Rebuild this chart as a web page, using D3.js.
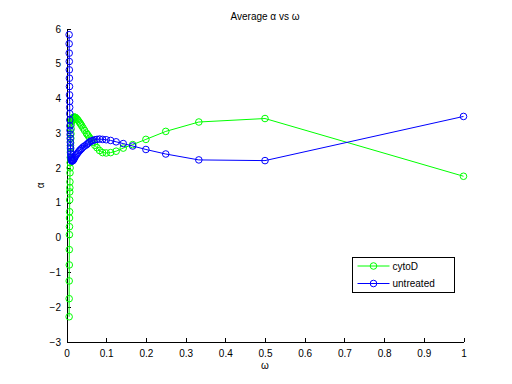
<!DOCTYPE html>
<html>
<head>
<meta charset="utf-8">
<script src="https://cdn.jsdelivr.net/npm/d3@7"></script>
<style>
  body { margin: 0; background: #fff; }
  svg { display: block; font-family: "Liberation Sans", Arial, sans-serif; }
  .axis text { font-size: 10px; fill: #000; }
  .axis path, .axis line { stroke: #000; shape-rendering: crispEdges; }
</style>
</head>
<body>
<div id="chart"></div>
<script>
// omega values (harmonic frequencies), shared by both series
var omega = [1, 0.5, 0.3333, 0.25, 0.2, 0.1667, 0.1429, 0.125, 0.1111, 0.1,
  0.0909, 0.0833, 0.0769, 0.0714, 0.0667, 0.0625, 0.0588, 0.0556, 0.0526, 0.05,
  0.0455, 0.0417, 0.0385, 0.0357, 0.0333, 0.0303, 0.0278, 0.025, 0.0227, 0.0208,
  0.0192, 0.0179, 0.0167, 0.0156, 0.0147, 0.0139, 0.0132,
  0.0125, 0.012, 0.0116, 0.0112, 0.0109, 0.0105, 0.0102, 0.0099, 0.0096, 0.0093,
  0.0091, 0.0088, 0.0086, 0.0084, 0.0082, 0.008, 0.0078, 0.0076, 0.0075, 0.0073,
  0.0071, 0.007, 0.0068, 0.0067, 0.0066];

var cytoD = [1.76, 3.42, 3.32, 3.05, 2.82, 2.67, 2.57, 2.48, 2.44, 2.43,
  2.44, 2.50, 2.58, 2.65, 2.74, 2.80, 2.86, 2.91, 2.96, 3.00,
  3.08, 3.15, 3.21, 3.26, 3.30, 3.35, 3.39, 3.42, 3.45, 3.46,
  3.46, 3.45, 3.44, 3.42, 3.40, 3.38, 3.36,
  3.33, 3.25, 3.12, 2.98, 2.85, 2.72, 2.58, 2.44, 2.30, 2.15,
  2.00, 1.86, 1.60, 1.43, 1.31, 1.08, 0.74, 0.56, 0.31, 0.08,
  -0.35, -0.79, -1.25, -1.76, -2.28];

var untreated = [3.48, 2.21, 2.23, 2.40, 2.53, 2.63, 2.70, 2.75, 2.79, 2.81,
  2.82, 2.83, 2.82, 2.81, 2.79, 2.77, 2.75, 2.72, 2.69, 2.66,
  2.63, 2.60, 2.56, 2.53, 2.50, 2.46, 2.42, 2.38, 2.34, 2.30,
  2.27, 2.24, 2.22, 2.21, 2.20, 2.20, 2.21,
  2.22, 2.25, 2.29, 2.34, 2.40, 2.47, 2.55, 2.64, 2.74, 2.85,
  2.96, 3.08, 3.21, 3.38, 3.56, 3.74, 3.91, 4.10, 4.34, 4.58,
  4.82, 5.06, 5.30, 5.57, 5.83];

var seriesNames = ["cytoD", "untreated"];
var seriesColors = ["#00ff00", "#0000ff"];
var xTicks = [0, 0.1, 0.2, 0.3, 0.4, 0.5, 0.6, 0.7, 0.8, 0.9, 1];
var yTicks = [-3, -2, -1, 0, 1, 2, 3, 4, 5, 6];

var width = 512, height = 384;
var margin = {left: 66.5, right: 48.5, top: 28.8, bottom: 42.2};

var svg = d3.select("#chart").append("svg")
    .attr("width", width)
    .attr("height", height);

var x = d3.scaleLinear().domain([0, 1]).range([margin.left, width - margin.right]);
var y = d3.scaleLinear().domain([-3, 6]).range([height - margin.bottom, margin.top]);

// axes, ticks point inward like MATLAB
svg.append("g")
    .attr("class", "axis")
    .attr("transform", "translate(0," + Math.round(y(-3)) + ")")
    .call(d3.axisBottom(x).tickValues(xTicks).tickSizeInner(-4).tickSizeOuter(0)
        .tickFormat(d3.format("")))
    .call(function(g) { g.selectAll("text").attr("dy", "1.2em"); });

svg.append("g")
    .attr("class", "axis")
    .attr("transform", "translate(" + Math.round(x(0)) + ",0)")
    .call(d3.axisLeft(y).tickValues(yTicks).tickSizeInner(-4).tickSizeOuter(0))
    .call(function(g) { g.selectAll("text").attr("x", -6); });

var data = [cytoD, untreated];
var line = d3.line()
    .x(function(d, i) { return x(omega[i]); })
    .y(function(d) { return y(d); });

data.forEach(function(vals, k) {
    svg.append("path")
        .datum(vals)
        .attr("fill", "none")
        .attr("stroke", seriesColors[k])
        .attr("stroke-width", 1)
        .attr("d", line);

    svg.append("g").selectAll("circle")
        .data(vals)
        .enter().append("circle")
        .attr("cx", function(d, i) { return x(omega[i]); })
        .attr("cy", function(d) { return y(d); })
        .attr("r", 3.3)
        .attr("fill", "none")
        .attr("stroke", seriesColors[k])
        .attr("stroke-width", 1);
});

// title and axis labels
svg.append("text")
    .attr("x", (x(0) + x(1)) / 2)
    .attr("y", 20)
    .attr("text-anchor", "middle")
    .style("font-size", "10px")
    .text("Average \u03b1 vs \u03c9");

svg.append("text")
    .attr("x", (x(0) + x(1)) / 2)
    .attr("y", 369)
    .attr("text-anchor", "middle")
    .style("font-size", "10px")
    .text("\u03c9");

svg.append("text")
    .attr("transform", "translate(44," + ((y(-3) + y(6)) / 2) + ") rotate(-90)")
    .attr("text-anchor", "middle")
    .style("font-size", "10px")
    .text("\u03b1");

// legend
var legend = svg.append("g").attr("transform", "translate(352.5,257.5)");
legend.append("rect")
    .attr("width", 102)
    .attr("height", 35)
    .attr("fill", "#fff")
    .attr("stroke", "#000")
    .attr("shape-rendering", "crispEdges");

seriesNames.forEach(function(name, k) {
    var ly = 8.5 + k * 17.5;
    legend.append("line")
        .attr("x1", 5).attr("x2", 37)
        .attr("y1", ly).attr("y2", ly)
        .attr("stroke", seriesColors[k]);
    legend.append("circle")
        .attr("cx", 21).attr("cy", ly).attr("r", 3.3)
        .attr("fill", "none")
        .attr("stroke", seriesColors[k]);
    legend.append("text")
        .attr("x", 40).attr("y", ly + 3.5)
        .style("font-size", "10px")
        .text(name);
});
</script>
</body>
</html>
